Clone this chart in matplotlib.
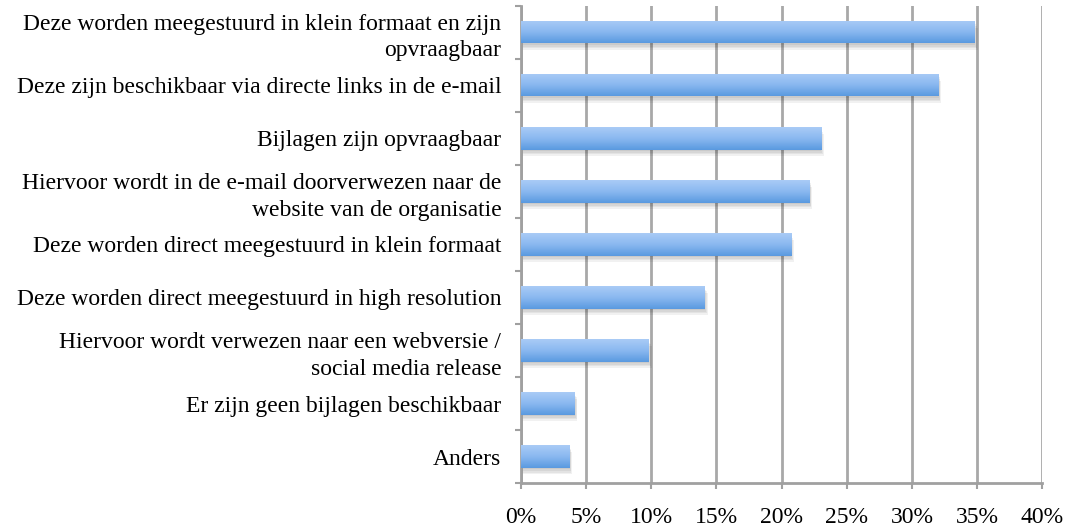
import matplotlib
matplotlib.use("Agg")
import matplotlib.pyplot as plt
import numpy as np
from matplotlib.colors import LinearSegmentedColormap
from matplotlib.ticker import FixedLocator, PercentFormatter

categories = [
    "Deze worden meegestuurd in klein formaat en zijn\nopvraagbaar",
    "Deze zijn beschikbaar via directe links in de e-mail",
    "Bijlagen zijn opvraagbaar",
    "Hiervoor wordt in de e-mail doorverwezen naar de\nwebsite van de organisatie",
    "Deze worden direct meegestuurd in klein formaat",
    "Deze worden direct meegestuurd in high resolution",
    "Hiervoor wordt verwezen naar een webversie /\nsocial media release",
    "Er zijn geen bijlagen beschikbaar",
    "Anders",
]
values = [34.8, 32.0, 23.0, 22.1, 20.7, 14.1, 9.8, 4.1, 3.7]

plt.rcParams['font.family'] = ['Liberation Serif', 'DejaVu Serif']

fig = plt.figure(figsize=(10.67, 5.28), dpi=100)
ax = fig.add_axes([0.488, 0.085, 0.489, 0.904])

n = len(categories)
y = np.arange(n)
h = 0.42

cmap = LinearSegmentedColormap.from_list("g", ["#a9cbf6", "#8ab8f0", "#5a9ae0"])
grad = np.linspace(0, 1, 64).reshape(-1, 1)

# soft shadows
for k in range(4):
    off = 0.03 * (k + 1)
    ax.barh(y + off, np.array(values) + 0.06 * (k + 1), height=h, left=0,
            color="#000000", alpha=0.055, zorder=2, linewidth=0)

bars = ax.barh(y, values, height=h, color="none", zorder=3, linewidth=0)
for b in bars:
    x0 = b.get_x(); w = b.get_width(); yc = b.get_y()
    im = ax.imshow(grad, cmap=cmap, extent=(x0, x0 + w, yc + h, yc),
                   origin="upper", aspect="auto", zorder=3)
    im.set_clip_path(b)

ax.set_xlim(0, 40)
ax.set_ylim(n - 0.5, -0.5)
ax.set_xticks(np.arange(0, 41, 5))
ax.xaxis.set_major_formatter(PercentFormatter(decimals=0))
ax.set_yticks(y)
ax.set_yticklabels(categories, fontsize=17, linespacing=1.35)
ax.yaxis.set_minor_locator(FixedLocator(np.arange(-0.5, n, 1)))
ax.tick_params(axis='y', which='major', length=0, pad=14)
ax.tick_params(axis='y', which='minor', length=4, color="#a0a0a0", width=1.5)
ax.tick_params(axis='x', length=4, color="#a0a0a0", width=1.5, labelsize=17, pad=13)

ax.grid(axis='x', color="#a8a8a8", linewidth=2)
ax.set_axisbelow(True)
for s in ['top', 'right']:
    ax.spines[s].set_visible(False)
for s in ['left', 'bottom']:
    ax.spines[s].set_color("#a0a0a0")
    ax.spines[s].set_linewidth(2)

fig.savefig("out.png", dpi=100)
